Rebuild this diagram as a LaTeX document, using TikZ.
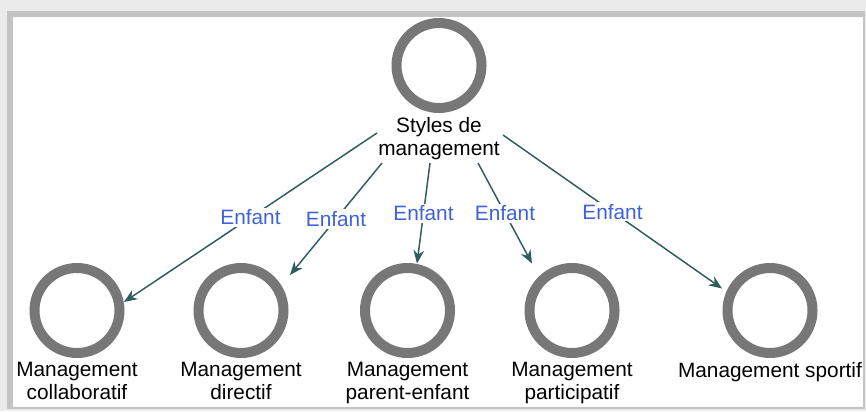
\documentclass[tikz,border=0pt]{standalone}
\usepackage{fontspec}
\setmainfont{Liberation Sans}
\usetikzlibrary{arrows.meta}
\definecolor{ringc}{HTML}{777777}
\definecolor{edgec}{HTML}{2F5C5C}
\definecolor{lblue}{HTML}{3F62D8}
\definecolor{frameA}{HTML}{EBEBEB}
\definecolor{frameB}{HTML}{C4C4C4}
\begin{document}
\begin{tikzpicture}[x=0.75pt,y=-0.75pt,
  ringnode/.style={circle, draw=ringc, line width=7.5pt, minimum size=63.75pt, inner sep=0pt},
  txt/.style={font=\fontsize{15.6}{17.4}\selectfont, align=center, inner sep=0pt, text=black, anchor=north},
  edge/.style={draw=edgec, line width=1.1pt, -{Stealth[length=10pt,width=8pt]}},
  lbl/.style={font=\fontsize{15.6}{17.4}\selectfont, text=lblue, fill=white, inner sep=1.5pt}]
\useasboundingbox (0,0) rectangle (866,411);
\fill[frameA] (0,0) rectangle (866,411);
\fill[frameB] (7,11) rectangle (865,409);
\fill[white] (13,17) rectangle (863,407);

\node[ringnode] (top) at (439,65.5) {};
\node[txt] (toplbl) at (439,117) {Styles de\\management};

\node[ringnode] (c1) at (77,310.5) {};
\node[ringnode] (c2) at (241,310.5) {};
\node[ringnode] (c3) at (407.5,310.5) {};
\node[ringnode] (c4) at (572,310.5) {};
\node[ringnode] (c5) at (770,310.5) {};

\node[txt] (l1) at (77,362) {Management\\collaboratif};
\node[txt] (l2) at (241,362) {Management\\directif};
\node[txt] (l3) at (407.5,362) {Management\\parent-enfant};
\node[txt] (l4) at (572,362) {Management\\participatif};
\node[txt] (l5) at (770,362) {Management sportif};

\draw[edge] ([shift={(-62,67.5)}]top.center) -- node[lbl]{Enfant} ([shift={(47,-8.5)}]c1.center);
\draw[edge] ([shift={(-57,97.5)}]top.center) -- node[lbl]{Enfant} ([shift={(49,-35.5)}]c2.center);
\draw[edge] ([shift={(-9,97.5)}]top.center) -- node[lbl]{Enfant} ([shift={(9.5,-47)}]c3.center);
\draw[edge] ([shift={(39,97.5)}]top.center) -- node[lbl]{Enfant} ([shift={(-40,-47)}]c4.center);
\draw[edge] ([shift={(64,69.5)}]top.center) -- node[lbl]{Enfant} ([shift={(-48,-22)}]c5.center);
\end{tikzpicture}
\end{document}
